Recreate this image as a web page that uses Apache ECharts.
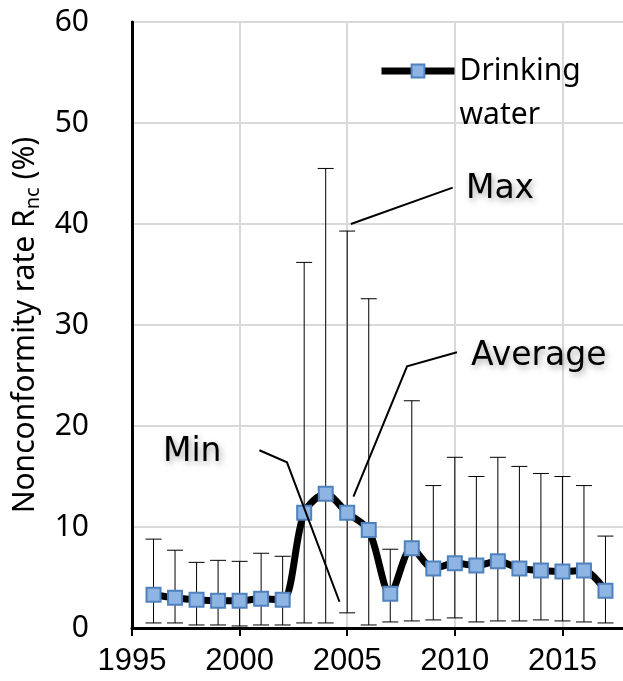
<!DOCTYPE html>
<html>
<head>
<meta charset="utf-8">
<title>Nonconformity rate of drinking water</title>
<script src="https://cdn.jsdelivr.net/npm/echarts@6/dist/echarts.min.js"></script>
<style>
  html, body { margin: 0; padding: 0; background: #fff; }
  #chart { width: 623px; height: 681px; }
</style>
</head>
<body>
<div id="chart"></div>
<script>
// Survey years
const years = [1996, 1997, 1998, 1999, 2000, 2001, 2002, 2003, 2004, 2005, 2006,
               2007, 2008, 2009, 2010, 2011, 2012, 2013, 2014, 2015, 2016, 2017];
// Average nonconformity rate (%)
const averageRate = [3.3, 3.0, 2.8, 2.7, 2.7, 2.9, 2.8, 11.4, 13.3, 11.4, 9.7,
                     3.4, 7.9, 5.9, 6.4, 6.2, 6.6, 5.9, 5.7, 5.6, 5.7, 3.7];
// Maximum rate (%), top of each range bar
const maxRate = [8.8, 7.7, 6.5, 6.7, 6.6, 7.4, 7.1, 36.2, 45.5, 39.3, 32.6,
                 7.8, 22.5, 14.1, 16.9, 15.0, 16.9, 16.0, 15.3, 15.0, 14.1, 9.1];
// Minimum rate (%), bottom of each range bar
const minRate = [0.5, 0.5, 0.3, 0.3, 0.2, 0.3, 0.3, 0.5, 0.5, 1.5, 0.3,
                 0.6, 0.7, 0.8, 1.0, 0.6, 0.7, 0.7, 0.8, 0.7, 0.6, 0.5];

// Callout labels with leader lines, in axis units (year, %)
const callouts = [
  { text: 'Min',     at: [1997.8, 17.4], path: [[2000.92, 17.6], [2002.2, 16.4], [2004.64, 2.6]] },
  { text: 'Max',     at: [2012.1, 43.4], path: [[2005.17, 40.0], [2009.9, 43.6]] },
  { text: 'Average', at: [2013.9, 26.9], path: [[2005.29, 13.0], [2007.78, 25.9], [2010.1, 27.3]] }
];

const chart = echarts.init(document.getElementById('chart'), null, { renderer: 'canvas' });

const rangeData = years.map((y, i) => [y, minRate[i], maxRate[i]]);
const avgData = years.map((y, i) => [y, averageRate[i]]);

const option = {
  backgroundColor: '#fff',
  animation: false,
  grid: {
    left: 132, top: 22, right: -4, bottom: 53,
    containLabel: false, outerBoundsMode: 'none',
    show: true, borderColor: '#000', borderWidth: 2, backgroundColor: 'transparent'
  },
  legend: {
    data: ['Drinking water'],
    left: 378, top: 5, padding: 0,
    itemWidth: 73, itemHeight: 16,
    // blank first line keeps "Drinking" level with the icon
    formatter: () => ' \nDrinking\nwater',
    lineStyle: { width: 7, color: '#000' },
    textStyle: {
      fontFamily: 'Noto Sans', fontSize: 30, color: '#000', lineHeight: 44
    }
  },
  xAxis: {
    type: 'value', min: 1995, max: 2018, interval: 5,
    axisLine: { show: true, lineStyle: { color: '#000', width: 3 } },
    axisTick: { show: true, length: 8, lineStyle: { color: '#000', width: 2 } },
    axisLabel: {
      fontFamily: 'Liberation Sans', fontSize: 31, color: '#000', margin: 18,
      formatter: v => (v % 5 === 0 ? String(v) : '')
    },
    splitLine: { show: true, lineStyle: { color: '#d9d9d9', width: 2 } }
  },
  yAxis: {
    type: 'value', min: 0, max: 60, interval: 10,
    name: '{a|Nonconformity rate R}{b|nc}{a| (%)}',
    nameLocation: 'middle', nameGap: 89, nameRotate: 90,
    nameMoveOverlap: false,
    nameTextStyle: {
      rich: {
        a: { fontFamily: 'Noto Sans', fontSize: 30, color: '#000', lineHeight: 36 },
        b: { fontFamily: 'Noto Sans', fontSize: 20, color: '#000', lineHeight: 36,
             verticalAlign: 'bottom', padding: [12, 0, 0, 0] }
      }
    },
    axisLine: { show: true, lineStyle: { color: '#000', width: 3 } },
    axisTick: { show: false },
    axisLabel: { fontFamily: 'Noto Sans', fontSize: 30, color: '#000', margin: 43 },
    splitLine: { show: true, lineStyle: { color: '#d9d9d9', width: 2 } }
  },
  series: [
    {
      name: 'Range',
      type: 'custom',
      z: 1,
      silent: true,
      data: rangeData,
      encode: { x: 0, y: [1, 2] },
      renderItem: (params, api) => {
        const x = api.value(0);
        const lo = api.coord([x, api.value(1)]);
        const hi = api.coord([x, api.value(2)]);
        const cap = 8;
        const style = { stroke: '#000', lineWidth: 1 };
        return {
          type: 'group',
          children: [
            { type: 'line', shape: { x1: lo[0], y1: lo[1], x2: hi[0], y2: hi[1] }, style },
            { type: 'line', shape: { x1: hi[0] - cap, y1: hi[1], x2: hi[0] + cap, y2: hi[1] }, style },
            { type: 'line', shape: { x1: lo[0] - cap, y1: lo[1], x2: lo[0] + cap, y2: lo[1] }, style }
          ]
        };
      }
    },
    {
      name: 'Drinking water',
      type: 'line',
      z: 2,
      data: avgData,
      smooth: 0.3,
      symbol: 'rect',
      symbolSize: 14,
      showAllSymbol: true,
      lineStyle: { color: '#000', width: 7 },
      itemStyle: { color: '#8db4e2', borderColor: '#4f81bd', borderWidth: 2 }
    },
    {
      name: 'Callouts',
      type: 'custom',
      z: 3,
      silent: true,
      data: callouts.map((c, i) => [c.at[0], c.at[1], i]),
      encode: { x: 0, y: 1 },
      renderItem: (params, api) => {
        const c = callouts[params.dataIndex];
        const pts = c.path.map(p => api.coord(p));
        const pos = api.coord(c.at);
        return {
          type: 'group',
          children: [
            { type: 'polyline', shape: { points: pts },
              style: { stroke: '#000', lineWidth: 2, fill: null } },
            { type: 'text', x: pos[0], y: pos[1],
              style: {
                text: c.text, fontFamily: 'DejaVu Sans', fontSize: 33, fill: '#000',
                align: 'center', verticalAlign: 'middle',
                textShadowColor: 'rgba(0,0,0,0.35)', textShadowBlur: 6,
                textShadowOffsetX: 2, textShadowOffsetY: 3
              } }
          ]
        };
      }
    }
  ]
};

chart.setOption(option);
</script>
</body>
</html>
